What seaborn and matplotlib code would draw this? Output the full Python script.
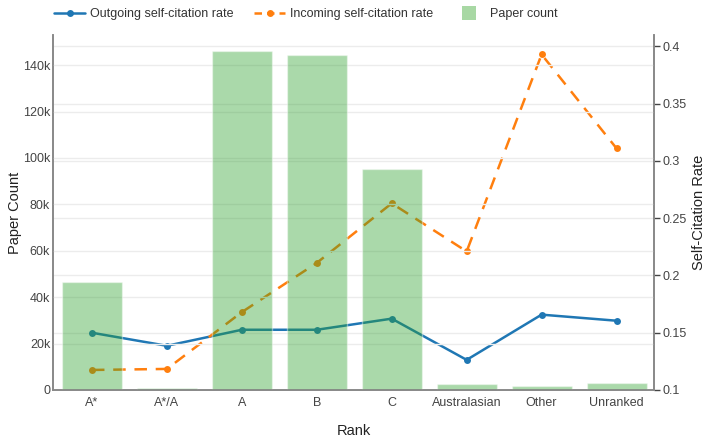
import matplotlib
matplotlib.use("Agg")
import matplotlib.pyplot as plt
import seaborn as sns
import pandas as pd
import numpy as np
from matplotlib.ticker import FuncFormatter, MultipleLocator
from matplotlib.lines import Line2D

ranks = ["A*", "A*/A", "A", "B", "C", "Australasian", "Other", "Unranked"]
paper_count = [46600, 1000, 146000, 144300, 95300, 2600, 1700, 3000]
outgoing_rate = [0.150, 0.1386, 0.1526, 0.1526, 0.1623, 0.1263, 0.1658, 0.1605]
incoming_rate = [0.1175, 0.1184, 0.168, 0.211, 0.263, 0.221, 0.393, 0.311]

df = pd.DataFrame({"Rank": ranks, "count": paper_count,
                   "out": outgoing_rate, "inc": incoming_rate})

sns.set_theme(style="white")
plt.rcParams["font.family"] = ["Liberation Sans", "DejaVu Sans"]

fig = plt.figure(figsize=(7.06, 4.42), dpi=100)
ax = fig.add_axes([53/706, 1-390/442, (654-53)/706, (390-35)/442])
ax2 = ax.twinx()

blue = "#1f77b4"
orange = "#ff7f0e"
x = np.arange(len(ranks))
sns.lineplot(x=x, y=df["out"], ax=ax2, color=blue, marker="o", markersize=5,
             markeredgewidth=0, linewidth=1.8)
sns.lineplot(x=x, y=df["inc"], ax=ax2, color=orange, marker="o", markersize=5,
             markeredgewidth=0, linewidth=1.8, linestyle=(0, (5, 3.5)))

sns.barplot(x=x, y=df["count"], ax=ax, color="#2ca02c", alpha=0.4,
            width=0.8, saturation=1, native_scale=True)

ax.set_zorder(ax2.get_zorder() + 1)
ax.patch.set_visible(False)

ax.set_xlim(-0.52, 7.5)
ax.set_ylim(0, 153000)
ax2.set_ylim(0.1, 0.41)

ax.set_xticks(x)
ax.set_xticklabels(ranks)
ax.yaxis.set_major_locator(MultipleLocator(20000))
ax.yaxis.set_major_formatter(FuncFormatter(lambda v, p: "0" if v == 0 else f"{int(v/1000)}k"))
ax2.yaxis.set_major_locator(MultipleLocator(0.05))
ax2.yaxis.set_major_formatter(FuncFormatter(lambda v, p: f"{v:g}"))

grid_c = "#ececec"
ax.grid(axis="y", color=grid_c, linewidth=1)
ax2.grid(axis="y", color=grid_c, linewidth=1)
ax.set_axisbelow(True)
ax2.set_axisbelow(True)

tick_c = "#444444"
ax.tick_params(axis="x", labelsize=9, colors=tick_c, length=0, pad=5)
ax.tick_params(axis="y", labelsize=9, colors=tick_c, length=0, pad=2)
ax2.tick_params(axis="y", labelsize=9, colors=tick_c, length=4, width=1, pad=2,
                direction="out", right=True)

spine_c = "#888888"
for a in (ax, ax2):
    a.spines["top"].set_visible(False)
    for s in ("left", "right", "bottom"):
        a.spines[s].set_color(spine_c)
        a.spines[s].set_linewidth(1.2)

ax.set_xlabel("Rank", fontsize=10.5, color="#222222")
ax.set_ylabel("Paper Count", fontsize=10.5, color="#222222")
ax2.set_ylabel("Self-Citation Rate", fontsize=10.5, color="#222222")
ax.xaxis.set_label_coords(0.5, (390-424)/355, transform=ax.transAxes)
ax.yaxis.set_label_coords((22-53)/601, 0.5, transform=ax.transAxes)
ax2.yaxis.set_label_coords((692-53)/601, 0.5, transform=ax.transAxes)

handles = [
    Line2D([0], [0], color=blue, marker="o", markersize=5, markeredgewidth=0, linewidth=1.8),
    Line2D([0], [0], color=orange, marker="o", markersize=5, markeredgewidth=0, linewidth=1.8,
           linestyle=(0, (3, 2))),
    Line2D([0], [0], color="#a8d8a4", marker="s", markersize=9.5, markeredgewidth=0,
           linestyle="none"),
]
labels = ["Outgoing self-citation rate", "Incoming self-citation rate", "Paper count"]
fig.legend(handles, labels, loc="center", bbox_to_anchor=(0.433, 1-14/442), ncol=3,
           frameon=False, fontsize=9, handlelength=2.5, columnspacing=1.6,
           handletextpad=0.4, labelcolor="#333333")

fig.savefig("out.png", dpi=100)
